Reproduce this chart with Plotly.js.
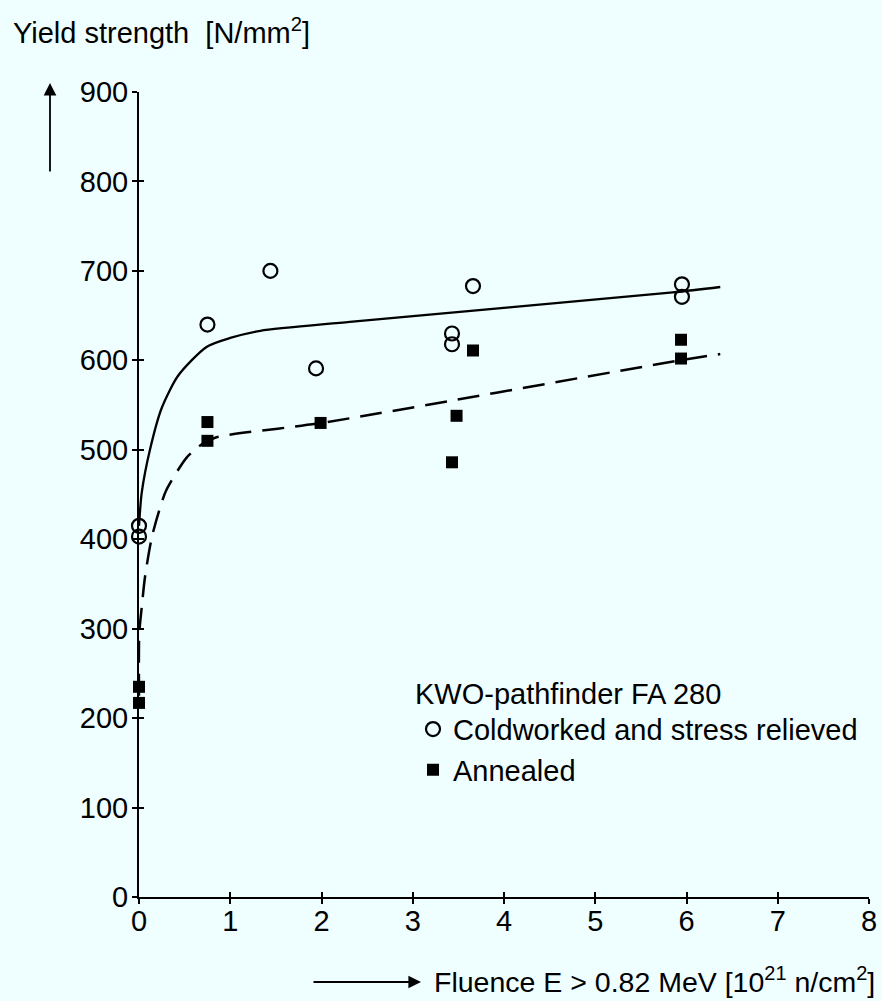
<!DOCTYPE html>
<html>
<head>
<meta charset="utf-8">
<script src="https://cdn.plot.ly/plotly-3.0.1.min.js"></script>
<style>html,body{margin:0;padding:0;background:#effefe;}</style>
</head>
<body>
<div id="chart" style="width:882px;height:1001px;"></div>
<script>
// Measured points: Coldworked and stress relieved (open circles)
const xCold = [0, 0, 0.75, 1.44, 1.94, 3.43, 3.43, 3.66, 5.95, 5.95];
const yCold = [415, 403, 640, 700, 591, 630, 618, 683, 685, 671];
// Measured points: Annealed (filled squares)
const xAnn = [0, 0, 0.75, 0.75, 1.99, 3.43, 3.48, 3.66, 5.94, 5.94];
const yAnn = [235, 217, 531, 510, 530, 486, 538, 611, 623, 602];
// Hand-drawn trend curves
const xColdCurve = [0, 0.03, 0.12, 0.25, 0.43, 0.74, 1.0, 1.33, 2.31, 5.85, 6.37];
const yColdCurve = [415, 452, 500, 547, 583, 615, 625, 633, 643, 676, 682];
const xAnnCurve = [0, 0.003, 0.03, 0.066, 0.14, 0.23, 0.3, 0.52, 0.7, 0.85, 2.0, 5.93, 6.37];
const yAnnCurve = [225, 295, 324, 358, 402, 435, 455, 491, 507, 514, 530, 600, 607];
const xTicks = [0, 1, 2, 3, 4, 5, 6, 7, 8];
const yTicks = [0, 100, 200, 300, 400, 500, 600, 700, 800, 900];

const FONT = 'Liberation Sans, Arial, sans-serif';
const FS = 29;
const BG = '#effefe';

const traces = [
  {x: xAnnCurve, y: yAnnCurve, mode: 'lines', line: {color: '#000', width: 2.5, dash: '22px,11px', shape: 'spline', smoothing: 0.7},
   showlegend: false, hoverinfo: 'skip', cliponaxis: false},
  {x: xColdCurve, y: yColdCurve, mode: 'lines', line: {color: '#000', width: 2.3, shape: 'spline', smoothing: 0.7},
   showlegend: false, hoverinfo: 'skip', cliponaxis: false, xaxis: 'x2', yaxis: 'y2'},
  {x: xCold, y: yCold, mode: 'markers', name: 'Coldworked and stress relieved',
   marker: {symbol: 'circle-open', size: 14, color: '#000', line: {width: 2.2}}, cliponaxis: false, xaxis: 'x2', yaxis: 'y2'},
  {x: xAnn, y: yAnn, mode: 'markers', name: 'Annealed',
   marker: {symbol: 'square', size: 12, color: '#000'}, cliponaxis: false}
];

const baseX = {range: [0, 8], tickvals: xTicks, ticktext: xTicks.map(String), showgrid: false, zeroline: false,
  showline: true, linecolor: '#000', linewidth: 2, ticks: 'outside', ticklen: 5, tickwidth: 2, tickcolor: '#000',
  tickfont: {family: FONT, size: FS, color: '#000'}, ticklabelstandoff: -8, fixedrange: true};
const baseY = {range: [0, 900], tickvals: yTicks, ticktext: yTicks.map(String), showgrid: false, zeroline: false,
  showline: true, linecolor: '#000', linewidth: 2, ticks: 'outside', ticklen: 5, tickwidth: 2, tickcolor: '#000',
  tickfont: {family: FONT, size: FS, color: '#000'}, ticklabelstandoff: -2, fixedrange: true};

const layout = {
  width: 882, height: 1001,
  paper_bgcolor: BG, plot_bgcolor: 'rgba(0,0,0,0)',
  margin: {l: 139, r: 13, t: 92, b: 104},
  font: {family: FONT, color: '#000'},
  title: {text: 'Yield strength  [N/mm<sup>2</sup>]', font: {family: FONT, size: FS, color: '#000'},
    xref: 'container', yref: 'container', x: 13/882, xanchor: 'left', y: 1 - 33/1001, yanchor: 'middle'},
  xaxis: baseX,
  yaxis: baseY,
  xaxis2: {range: [0, 8], tickvals: xTicks, overlaying: 'x', anchor: 'y', side: 'bottom', showgrid: false, zeroline: false,
    showline: false, ticks: 'inside', ticklen: 5, tickwidth: 2, tickcolor: '#000', showticklabels: false, fixedrange: true},
  yaxis2: {range: [0, 900], tickvals: yTicks, overlaying: 'y', anchor: 'x', side: 'left', showgrid: false, zeroline: false,
    showline: false, ticks: 'inside', ticklen: 5, tickwidth: 2, tickcolor: '#000', showticklabels: false, fixedrange: true},
  showlegend: true,
  legend: {x: (413 - 139) / 730, xanchor: 'left', y: (897 - 666) / 805, yanchor: 'top', bgcolor: 'rgba(0,0,0,0)', borderwidth: 0,
    font: {family: FONT, size: FS, color: '#000'}, tracegroupgap: 0,
    title: {text: 'KWO-pathfinder FA 280', font: {family: FONT, size: FS, color: '#000'}, side: 'top'}},
  annotations: [
    {xref: 'paper', yref: 'paper', x: (877 - 139) / 730, y: -(980 - 897) / 805, xanchor: 'right', yanchor: 'middle',
     text: 'Fluence E &gt; 0.82 MeV [10<sup>21</sup> n/cm<sup>2</sup>]', showarrow: false,
     font: {family: FONT, size: 28.5, color: '#000'}},
    {xref: 'paper', yref: 'paper', x: (421 - 139) / 730, y: -(982 - 897) / 805, text: '', showarrow: true,
     ax: -109, ay: 0, arrowhead: 2, arrowsize: 1.4, arrowwidth: 1.8, arrowcolor: '#000', standoff: 0},
    {xref: 'paper', yref: 'paper', x: (50 - 139) / 730, y: (897 - 83) / 805, text: '', showarrow: true,
     ax: 0, ay: 90, arrowhead: 2, arrowsize: 1.4, arrowwidth: 1.8, arrowcolor: '#000', standoff: 0}
  ]
};

Plotly.newPlot('chart', traces, layout, {displayModeBar: false, staticPlot: true});
</script>
</body>
</html>
